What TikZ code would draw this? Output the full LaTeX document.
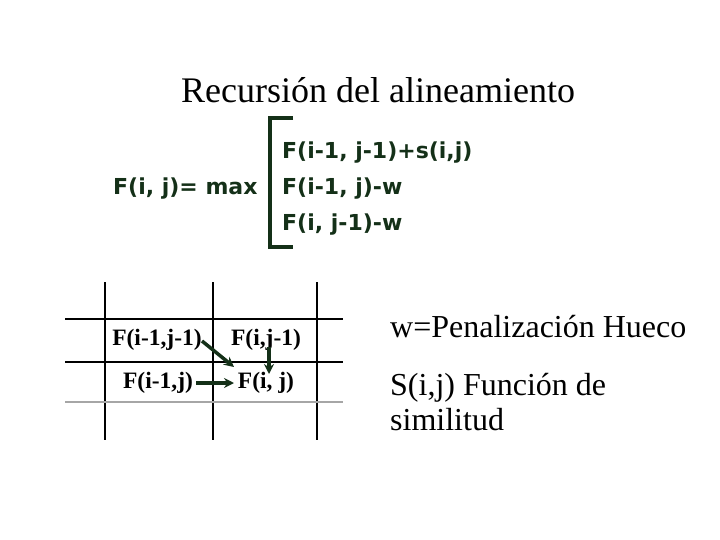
\documentclass[tikz,border=0pt]{standalone}
\usepackage{fontspec}
\setmainfont{Liberation Serif}
\newfontfamily\formfont{DejaVu Sans}
\usetikzlibrary{arrows.meta}
\definecolor{dkgreen}{RGB}{20,48,24}
\tikzset{
  formula/.style={font=\formfont\bfseries\fontsize{22}{24}\selectfont, text=dkgreen, inner sep=0pt, anchor=base west},
  celltext/.style={font=\bfseries\fontsize{23.5}{26}\selectfont, inner sep=0pt, anchor=base},
  note/.style={font=\fontsize{32}{36}\selectfont, inner sep=0pt, anchor=base west},
  gridline/.style={line width=1.1pt, black},
  dep/.style={line width=3.5pt, dkgreen, -{Stealth[length=10pt,width=10pt]}}
}
\begin{document}
\begin{tikzpicture}[x=1pt,y=-1pt]
\useasboundingbox (0,0) rectangle (720,540);
% title
\node[font=\fontsize{36}{40}\selectfont, inner sep=0pt, anchor=base] (title) at (378,103) {Recursión del alineamiento};
% formula
\node[formula] (lhs) at (113,195) {F(i, j)= max};
\node[formula] (c1) at (282,159) {F(i-1, j-1)+s(i,j)};
\node[formula] (c2) at (282,195) {F(i-1, j)-w};
\node[formula] (c3) at (282,230) {F(i, j-1)-w};
\coordinate (bt) at (293,118);
\coordinate (bb) at (293,247);
\draw[dkgreen, line width=4pt] (bt) -| (270,247) -- (bb);
% grid
\coordinate (v1t) at (105,282); \coordinate (v1b) at (105,440);
\coordinate (v2t) at (213,282); \coordinate (v2b) at (213,440);
\coordinate (v3t) at (317,282); \coordinate (v3b) at (317,440);
\coordinate (h1l) at (65,319); \coordinate (h1r) at (343,319);
\coordinate (h2l) at (65,362); \coordinate (h2r) at (343,362);
\coordinate (h3l) at (65,402); \coordinate (h3r) at (343,402);
\draw[gridline] (v1t) -- (v1b);
\draw[gridline] (v2t) -- (v2b);
\draw[gridline] (v3t) -- (v3b);
\draw[gridline] (h1l) -- (h1r);
\draw[gridline] (h2l) -- (h2r);
\draw[gridline, gray!70] (h3l) -- (h3r);
% cells
\node[celltext] (a) at (157,345) {F(i-1,j-1)};
\node[celltext] (b) at (266,345) {F(i,j-1)};
\node[celltext] (c) at (158,388) {F(i-1,j)};
\node[celltext] (d) at (266,388) {F(i, j)};
\coordinate (aS) at (202,341);
\coordinate (dNW) at (234,367);
\coordinate (bS) at (269,347);
\coordinate (dN) at (269,374);
\coordinate (cE) at (196,383);
\coordinate (dW) at (234,383);
\draw[dep] (aS) -- (dNW);
\draw[dep] (bS) -- (dN);
\draw[dep] (cE) -- (dW);
% notes
\node[note] (n1) at (390,337) {w=Penalización Hueco};
\node[note] (n2) at (390,395) {S(i,j) Función de};
\node[note] (n3) at (390,430) {similitud};
\end{tikzpicture}
\end{document}
